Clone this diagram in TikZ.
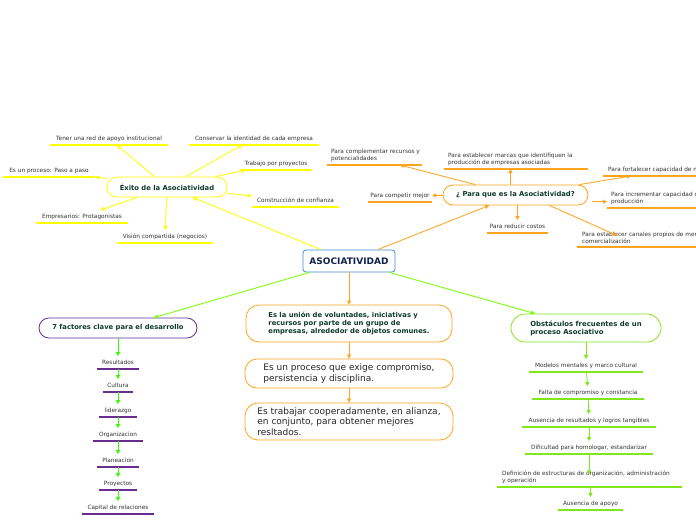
\documentclass[tikz,border=0pt]{standalone}
\usepackage{fontspec}
\setmainfont{DejaVu Sans}
\usetikzlibrary{arrows.meta,calc}
\definecolor{yel}{HTML}{FFFF00}
\definecolor{org}{HTML}{FFA41C}
\definecolor{grn}{HTML}{77FF00}
\definecolor{grn2}{HTML}{33FF00}
\definecolor{grn3}{HTML}{80E81A}
\definecolor{pur}{HTML}{6A2C8E}
\definecolor{blu}{HTML}{3A8ED4}
\definecolor{txt}{HTML}{333333}
\definecolor{dkg}{HTML}{0E3B2C}
\definecolor{navy}{HTML}{10224F}
\tikzset{
  lab/.style={anchor=south, inner xsep=0pt, inner ysep=3.3pt, text height=4.4pt, text depth=1.5pt,
    font=\fontsize{5.8}{7}\selectfont, text=txt, minimum width=#1},
  labm/.style={anchor=south west, align=left, inner xsep=#1, inner ysep=3.3pt, text height=4.4pt,
    font=\fontsize{5.8}{7}\selectfont, text=txt},
  box/.style={draw=#1, line width=0.8pt, fill=white, inner sep=0pt, align=left},
  bfont/.style={font=\fontsize{6.8}{8.4}\selectfont\bfseries, text=dkg},
  tip/.style={-{Triangle[length=4pt,width=4pt]}, line width=0.8pt},
  yarr/.style={tip, draw=yel, fill=yel},
  oarr/.style={tip, draw=org, fill=org},
  garr/.style={tip, draw=grn, fill=grn},
  g2arr/.style={tip, draw=grn2, fill=grn2},
  g3arr/.style={tip, draw=grn3, fill=grn3},
  ul/.style={draw=#1, line width=1.3pt},
}
\begin{document}
\begin{tikzpicture}[x=1pt,y=-1pt]
\useasboundingbox (0,0) rectangle (696,520);
\clip (0,0) rectangle (696,520);

% central boxes
\node[box=blu, rounded corners=3pt, minimum width=92pt, minimum height=22pt,
  font=\fontsize{9}{10}\selectfont\bfseries, text=navy] (asoc) at (349,261) {ASOCIATIVIDAD};
\node[box=org, rounded corners=13pt, minimum width=206pt, minimum height=37pt, bfont] (b1) at (349,323.5)
  {Es la unión de voluntades, iniciativas y\\recursos por parte de un grupo de\\empresas, alrededor de objetos comunes.};
\node[box=org, rounded corners=12pt, minimum width=208pt, minimum height=29pt,
  font=\fontsize{9}{11}\selectfont, text=black!85] (b2) at (349,373.5)
  {Es un proceso que exige compromiso,\\persistencia y disciplina.};
\node[box=org, rounded corners=13pt, minimum width=208pt, minimum height=37pt,
  font=\fontsize{9}{10.5}\selectfont, text=black!85] (b3) at (349,421.5)
  {Es trabajar cooperadamente, en alianza,\\en conjunto, para obtener mejores\\resltados.};

% main topics
\node[box=yel, rounded corners=10pt, minimum width=120pt, minimum height=20pt, bfont] (exito) at (167,187) {Éxito de la Asociatividad};
\node[box=org, rounded corners=10pt, minimum width=145pt, minimum height=20pt, bfont] (q) at (515.5,195) {¿ Para que es la Asociatividad?};
\node[box=pur, rounded corners=10pt, minimum width=158pt, minimum height=20pt, bfont] (fac) at (118,328) {7 factores clave para el desarrollo};
\node[box=grn3, rounded corners=14pt, minimum width=150pt, minimum height=28pt, bfont,
  font=\fontsize{6.9}{8}\selectfont\bfseries] (obs) at (586,328) {Obstáculos frecuentes de un\\proceso Asociativo};

% yellow labels
\node[lab=118pt] (tener) at (109,145) {Tener una red de apoyo institucional};
\node[lab=130pt] (conserv) at (254,145) {Conservar la identidad de cada empresa};
\node[lab=92pt] (paso) at (49,177) {Es un proceso: Paso a paso};
\node[lab=72pt] (trab) at (276,170) {Trabajo por proyectos};
\node[lab=87pt] (conf) at (295.5,207) {Construcción de confianza};
\node[lab=92pt] (empr) at (82,223) {Empresarios: Protagonistas};
\node[lab=96pt] (vis) at (165,243) {Visión compartida (negocios)};

% orange labels
\node[labm=4pt] (compl) at (327,165) {Para complementar recursos y\\potencialidades};
\node[labm=4pt] (marc) at (444,169) {Para establecer marcas que identifiquen la\\producción de empresas asociadas};
\node[lab=64pt] (comp) at (400,202) {Para competir mejor};
\node[lab=61pt] (red) at (517.5,233) {Para reducir costos};
\node[labm=5pt] (fort) at (603,176) {Para fortalecer capacidad de negociación};
\node[labm=4pt] (incr) at (607,208) {Para incrementar capacidad de\\producción};
\node[labm=5pt] (canal) at (577,247) {Para establecer canales propios de mercadeo y\\comercialización};

% left column
\node[lab=42pt] (res) at (118,369) {Resultados};
\node[lab=30pt] (cul) at (118,392) {Cultura};
\node[lab=37pt] (lid) at (118,417) {liderazgo};
\node[lab=49pt] (org) at (118,441) {Organizacion};
\node[lab=41pt] (pla) at (118,467) {Planeacion};
\node[lab=38pt] (pro) at (118,490) {Proyectos};
\node[lab=72pt] (cap) at (118,514) {Capital de relaciones};

% right column
\node[lab=114pt] (mod) at (586,372) {Modelos mentales y marco cultural};
\node[lab=112pt] (fal) at (588,399) {Falta de compromiso y constancia};
\node[lab=134pt] (aus) at (589,427) {Ausencia de resultados y logros tangibles};
\node[lab=128pt] (dif) at (589,454) {Dificultad para homologar, estandarizar};
\node[labm=5pt] (def) at (497,487) {Definición de estructuras de organización, administración\\y operación};
\node[lab=65pt] (apo) at (590.5,510) {Ausencia de apoyo};

% underlines
\foreach \n in {tener,conserv,paso,trab,conf,empr,vis} \draw[ul=yel] (\n.south west) -- (\n.south east);
\foreach \n in {comp,red} \draw[ul=org] (\n.south west) -- (\n.south east);
\draw[ul=org] (compl.south west) -- ++(95,0);
\draw[ul=org] (marc.south west) -- ++(144,0);
\draw[ul=org] (fort.south west) -- ++(140,0);
\draw[ul=org] (incr.south west) -- ++(140,0);
\draw[ul=org] (canal.south west) -- ++(170,0);
\foreach \n in {res,cul,lid,org,pla,pro,cap} \draw[ul=pur] (\n.south west) -- (\n.south east);
\foreach \n in {mod,fal,aus,dif,apo} \draw[ul=grn3] (\n.south west) -- (\n.south east);
\draw[ul=grn3] (def.south west) -- ++(185,0);

% connectors from center
\draw[yarr] (asoc) -- (exito);
\draw[oarr] (asoc) -- (q);
\draw[garr] (asoc) -- (fac);
\draw[garr] (asoc) -- (obs);
\draw[oarr] (asoc) -- (b1);
\draw[oarr] (b1) -- (b2);
\draw[oarr] (b2) -- (b3);

% exito children
\foreach \n in {tener,conserv,paso,trab,conf,empr,vis} \draw[yarr] (exito) -- (\n);

% q children
\draw[oarr] (q) -- (compl);
\draw[oarr] (marc.south |- q.north) -- (marc.south);
\draw[oarr] (q) -- (comp);
\draw[oarr] (red.north |- q.south) -- (red.north);
\draw[oarr] ($(q.north east)+(-9,0)$) -- ($(fort.south west)+(28,0)$);
\draw[oarr, shorten <=4pt] (q.east |- incr.west) -- (incr.west);
\draw[oarr] ($(q.south)+(34,0)$) -- ($(canal.north west)+(40,0)$);

% left chain
\draw[g2arr] (fac) -- (res);
\draw[g2arr] (res) -- (cul);
\draw[g2arr] (cul) -- (lid);
\draw[g2arr] (lid) -- (org);
\draw[g2arr] (org) -- (pla);
\draw[g2arr] (pla) -- (pro);
\draw[g2arr] (pro) -- (cap);

% right chain
\draw[g3arr] (obs) -- (mod);
\draw[g3arr] (mod) -- (fal);
\draw[g3arr] (fal) -- (aus);
\draw[g3arr] (aus) -- (dif);
\draw[g3arr] (dif) -- (def.north -| dif.south);
\draw[g3arr] (def.south -| apo.north) -- (apo);
\end{tikzpicture}
\end{document}
